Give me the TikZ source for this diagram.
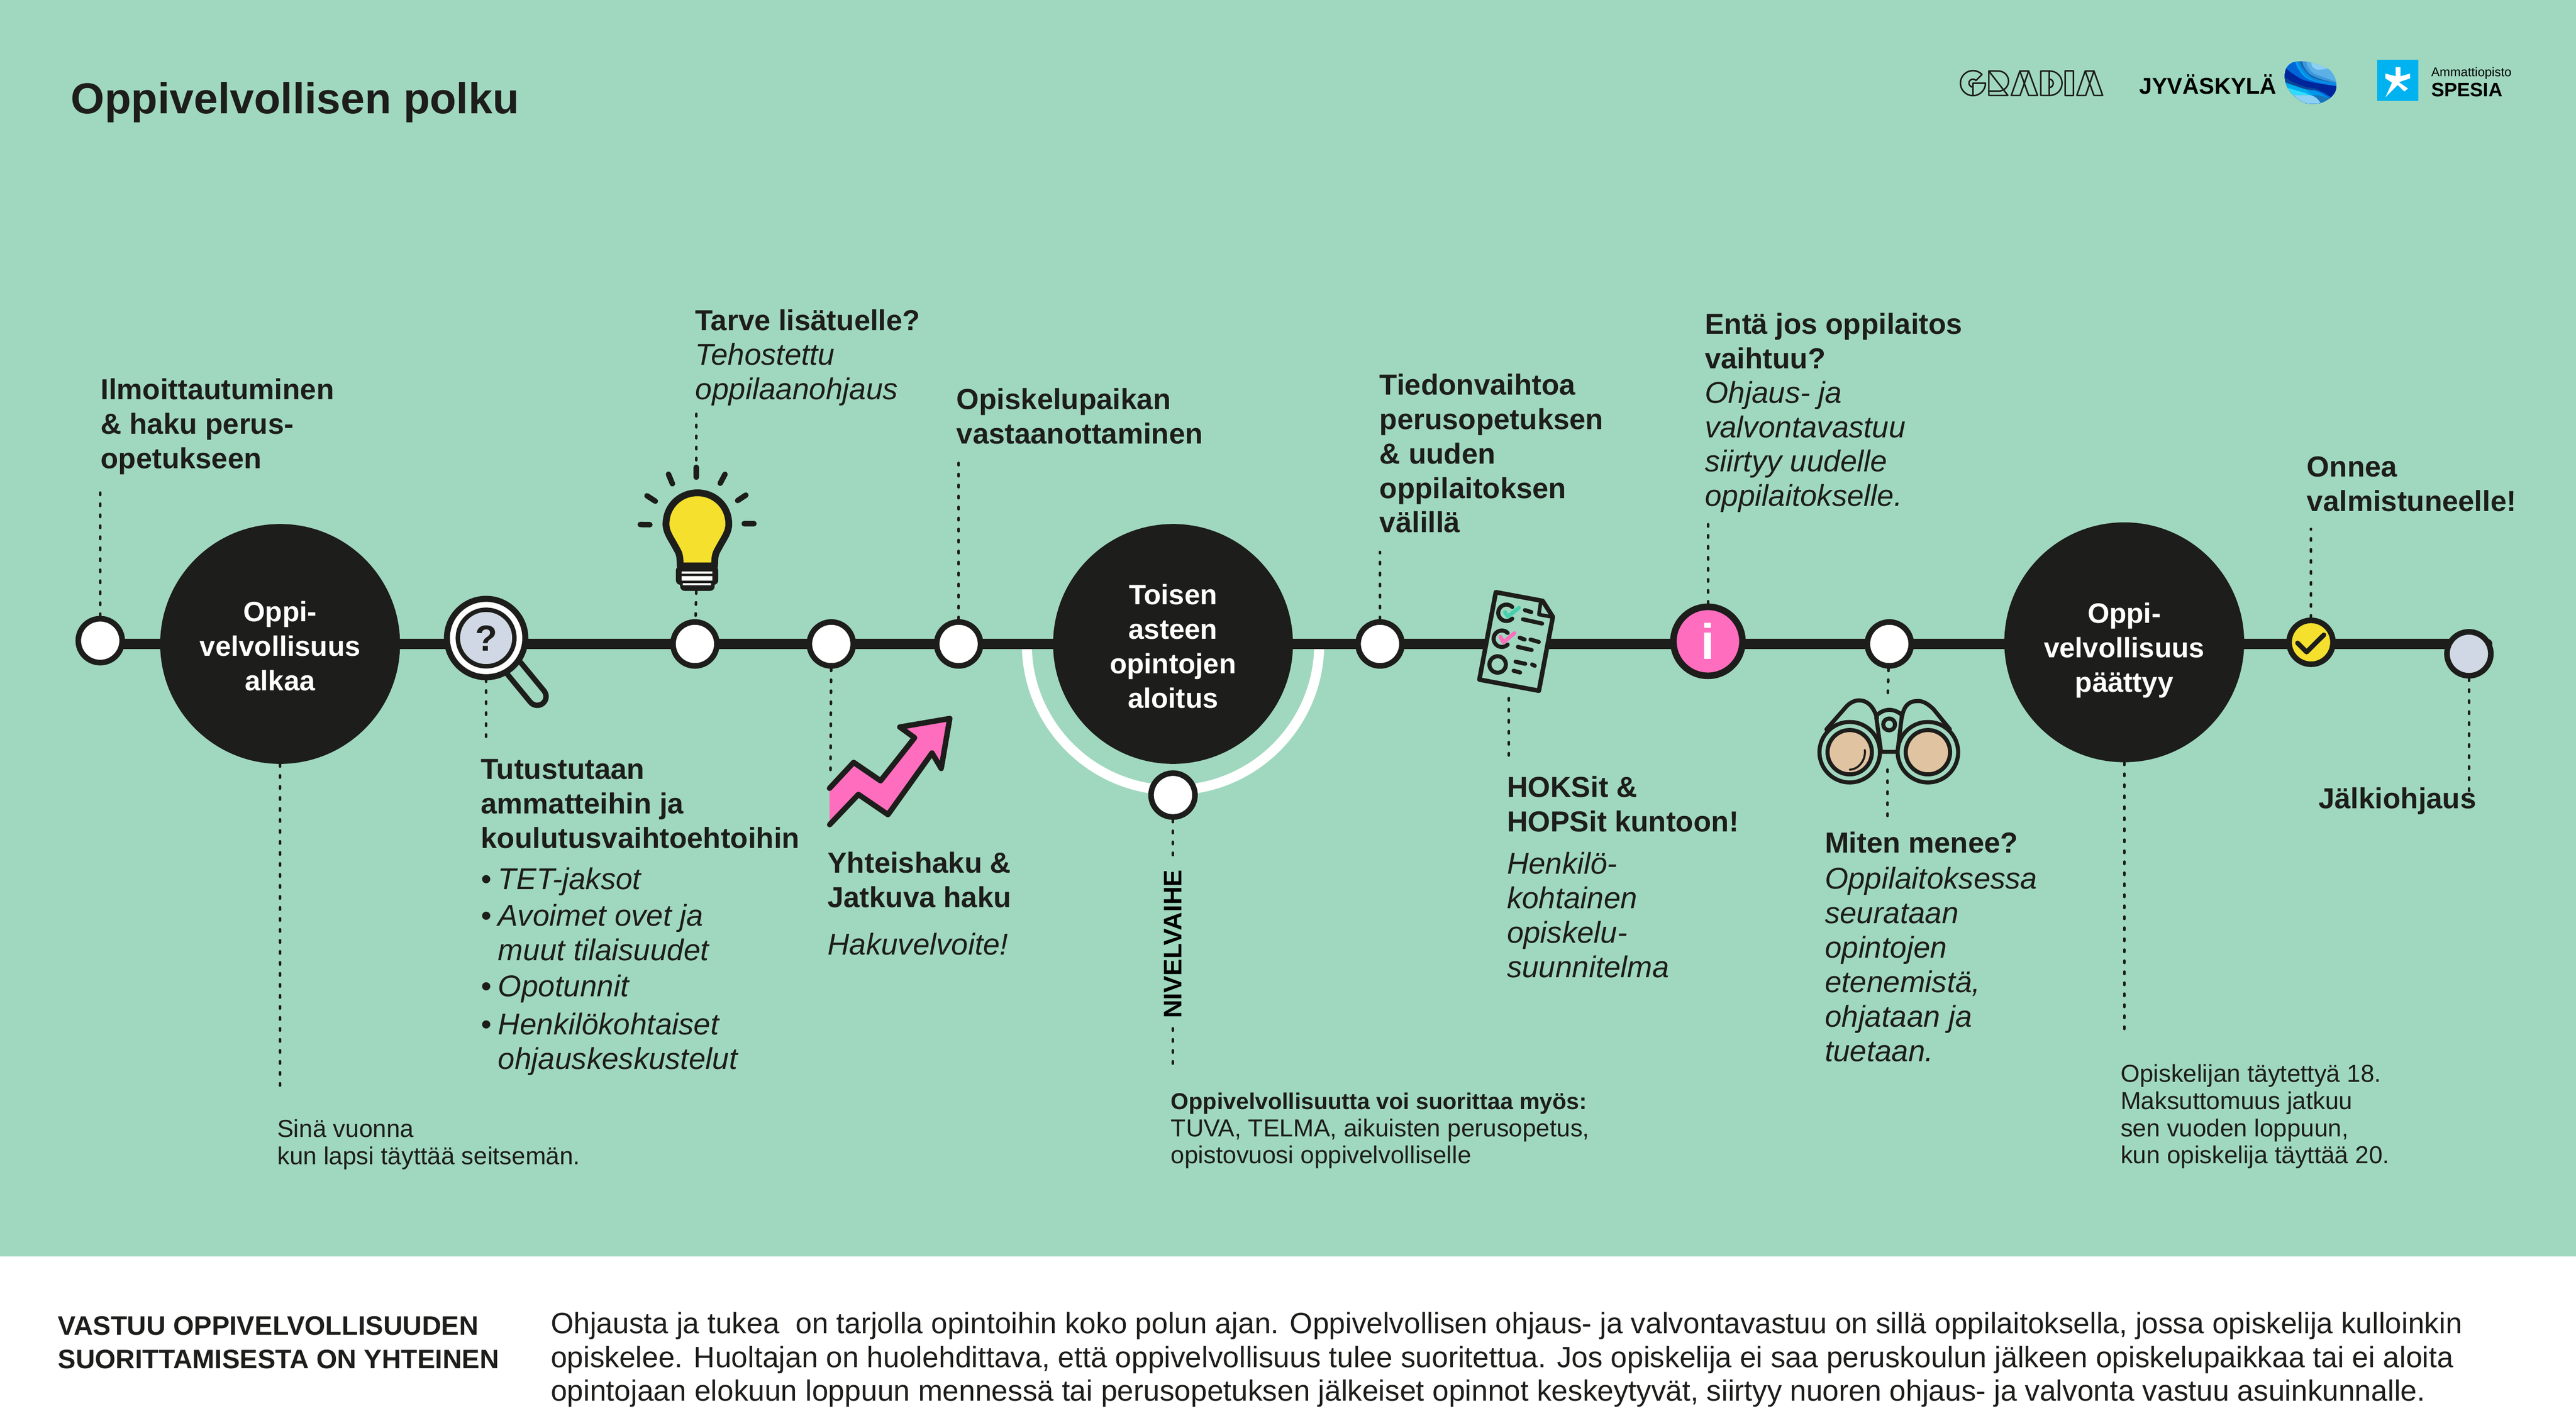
\documentclass[tikz,border=0pt]{standalone}
\usepackage{fontspec}
\setmainfont{Liberation Sans}
\usetikzlibrary{calc}
\definecolor{bgc}{HTML}{A0D8BF}
\definecolor{ink}{HTML}{1D1D1B}
\definecolor{pink}{HTML}{FF6EBE}
\definecolor{yel}{HTML}{F5E02E}
\definecolor{gry}{HTML}{CFD8E4}
\definecolor{tan}{HTML}{E0C3A0}
\definecolor{teal}{HTML}{45D0B0}
\definecolor{spes}{HTML}{00B2EF}
\definecolor{bA}{HTML}{5BB1E6}
\definecolor{bB}{HTML}{8DD0F3}
\definecolor{bC}{HTML}{3D97DC}
\definecolor{bD}{HTML}{1668AD}
\definecolor{bE}{HTML}{0A8AE6}
\definecolor{bF}{HTML}{00A6EF}
\definecolor{bG}{HTML}{0066D8}
\definecolor{bH}{HTML}{00259B}
\definecolor{bI}{HTML}{0B4596}
\definecolor{bJ}{HTML}{00AEEF}
\definecolor{bK}{HTML}{0096EA}
\definecolor{bL}{HTML}{30DDFF}
\definecolor{bM}{HTML}{1A74B8}
\pgfdeclarelayer{back}
\pgfsetlayers{back,main}
\newcommand\fl{\rule{0pt}{16pt}}
\newcommand\hr[1]{\rule{0pt}{#1}}
\newcommand\hd[1]{\rule[-#1]{0pt}{#1}}
\newcommand\itx[1]{{\fontsize{13.3pt}{15.24pt}\selectfont\itshape\mdseries #1}}
\tikzset{
  base/.style={anchor=north west,inner sep=0pt,align=left,yshift=16pt,text=ink},
  hd/.style={base,font=\fontsize{12.8pt}{15.24pt}\selectfont\bfseries},
  sm/.style={base,font=\fontsize{10.85pt}{12pt}\selectfont},
  para/.style={base,font=\fontsize{12.98pt}{14.9pt}\selectfont},
  bighub/.style={circle,fill=ink,inner sep=0pt,minimum size=106pt,text=white,align=center,font=\fontsize{12.4pt}{15.24pt}\selectfont\bfseries},
  stop/.style={circle,draw=ink,fill=white,line width=2.47pt,inner sep=0pt,minimum size=19.4pt},
  dots/.style={draw=ink,line width=1.16pt,line cap=round,dash pattern=on 1pt off 3.86pt},
  mainline/.style={draw=ink,line width=4.5pt},
  ic/.style={draw=ink,line width=2.4pt,line cap=round,line join=round},
  ict/.style={draw=ink,line width=1.8pt,line cap=round,line join=round},
  logo/.style={draw=ink,line width=0.66pt,line join=round,line cap=round},
}
\begin{document}
\begin{tikzpicture}[x=0.0255102cm,y=-0.0255102cm]
\useasboundingbox (0,0) rectangle (1568,858.94);
\begin{pgfonlayer}{back}
\fill[bgc] (0,0) rectangle (1568,765);
\fill[white] (0,765) rectangle (1568,858.94);
\end{pgfonlayer}

% title
\node[base,font=\fontsize{19.15pt}{23pt}\selectfont\bfseries] (title) at (43,69) {\fl Oppivelvollisen polku};

% GRADIA logotype: the drawn letter forms, with the word kept as real text
\node[anchor=base west,inner sep=0pt,text opacity=0,font=\fontsize{16pt}{16pt}\selectfont\bfseries] (gradia) at (1192,58) {GRADIA};
\begin{scope}[shift={(1185.8,37.24)},x=0.0016667cm,y=-0.0016667cm]
\draw[logo] (316,124) arc (-44:-360:117) -- (232,205) -- (232,322);
\draw[logo] (316,124) -- (260,181) arc (-40:-270:37);
\draw[logo] (380,92) -- (470,92) arc (-90:90:94) -- (380,280);
\draw[logo] (380,92) -- (380,320) -- (558,320) -- cycle;
\draw[logo] (590,320) -- (670,92) -- (752,92) -- (835,320) -- (752,320) -- (670,92);
\draw[logo] (590,320) -- (672,320) -- (752,92);
\draw[logo] (865,92) -- (950,92) arc (-90:90:114) -- (865,320) -- cycle;
\draw[logo] (942,92) -- (942,320);
\draw[logo] (942,167) arc (-90:90:40);
\draw[logo] (1092,92) rectangle (1170,320);
\draw[logo] (1202,320) -- (1280,92) -- (1362,92) -- (1443,320) -- (1362,320) -- (1280,92);
\draw[logo] (1202,320) -- (1285,320) -- (1362,92);
\end{scope}

\node[anchor=base west,inner sep=0pt,text=black,font=\fontsize{10.1pt}{12pt}\selectfont\bfseries] (jkl) at (1302,57.3) {JYVÄSKYLÄ};
\begin{scope}[shift={(1381.8,29.4)},x=0.0016667cm,y=-0.0016667cm]
\clip plot[smooth cycle] coordinates {(290,122) (385,133) (540,190) (600,260) (618,330) (610,400) (565,460) (480,508) (400,518) (310,505) (215,435) (165,370) (140,300) (137,240) (155,180) (205,135)};
\fill[bA] (100,100) rectangle (640,560);
\fill[bB] plot[smooth] coordinates {(385,110) (390,165) (440,200) (540,190) (600,185)} -- (600,100) -- cycle;
\fill[bC] plot[smooth] coordinates {(340,100) (345,160) (400,230) (500,270) (640,320)} -- (640,560) -- (100,560) -- (100,100) -- cycle;
\fill[bD] plot[smooth] coordinates {(300,100) (310,160) (370,240) (480,290) (640,330)} -- (640,560) -- (100,560) -- (100,100) -- cycle;
\fill[bE] plot[smooth] coordinates {(265,100) (300,180) (380,265) (470,298) (640,330)} -- (640,560) -- (100,560) -- (100,100) -- cycle;
\fill[bF] plot[smooth] coordinates {(245,100) (270,170) (345,265) (470,325) (640,360)} -- (640,560) -- (100,560) -- (100,100) -- cycle;
\fill[bG] plot[smooth] coordinates {(235,100) (250,170) (325,270) (450,320) (640,360)} -- (640,560) -- (100,560) -- (100,100) -- cycle;
\fill[bH] plot[smooth] coordinates {(130,170) (200,230) (310,295) (460,330) (640,355)} -- (640,560) -- (100,560) -- cycle;
\fill[bI] plot[smooth] coordinates {(130,265) (210,315) (330,360) (420,375)} -- (470,395) -- (470,560) -- (100,560) -- cycle;
\fill[bG] (400,385) -- (490,410) -- (640,500) -- (640,560) -- (400,560) -- cycle;
\fill[bJ] plot[smooth] coordinates {(130,315) (230,350) (340,385) (440,405) (560,475) (640,530)} -- (640,560) -- (100,560) -- cycle;
\fill[bK] plot[smooth] coordinates {(330,383) (440,403) (560,470)} -- (480,480) -- (400,440) -- cycle;
\fill[bL] (150,365) -- (250,395) -- (330,418) -- (370,437) -- (150,437) -- cycle;
\fill[bB] (150,437) -- (370,437) .. controls (430,450) and (450,480) .. (485,515) -- (450,560) -- (150,560) -- cycle;
\fill[bM] (390,440) .. controls (450,430) and (500,450) .. (560,470) -- (480,520) .. controls (450,480) and (430,450) .. (390,440) -- cycle;
\end{scope}
\fill[spes] (1447,36.3) rectangle (1472,61.6);
\fill[white] (1458.2,40.9) -- (1461.2,40.9) -- (1461.2,46.4) -- (1467,44.8) -- (1467,47.7) -- (1460.2,50) -- (1465.7,53.9) -- (1463.5,55.7) -- (1459.5,51.7) -- (1452,59.2) -- (1456,50.3) -- (1452,47.7) -- (1452,44.8) -- (1458.2,46.4) -- cycle;
\node[anchor=base west,inner sep=0pt,text=black,font=\fontsize{5.6pt}{6pt}\selectfont] (amm) at (1479.6,46.5) {Ammattiopisto};
\node[anchor=base west,inner sep=0pt,text=black,font=\fontsize{8.6pt}{9pt}\selectfont\bfseries] (sp) at (1479.6,58.8) {SPESIA};

% hubs and stops
\node[stop] (n1) at (61,390) {};
\node[bighub] (hub1) at (170.5,392) {\hr{12.5pt}Oppi-\\velvollisuus\\\hd{2pt}alkaa};
\node[stop] (n2) at (423,392) {};
\node[stop] (n3) at (506,392) {};
\node[stop] (n4) at (583.5,392) {};
\node[bighub] (hub2) at (714,392) {\hr{13.1pt}Toisen\\asteen\\opintojen\\\hd{2pt}aloitus};
\node[stop] (n5) at (714,484) {};
\node[stop] (n6) at (840,392) {};
\node[stop,fill=pink,line width=2.9pt,minimum size=30.5pt,text=white,font=\fontsize{22pt}{22pt}\selectfont\bfseries] (info) at (1039.6,390.4) {i};
\node[stop] (n7) at (1150,392) {};
\node[bighub] (hub3) at (1293,391) {\hr{16.5pt}Oppi-\\velvollisuus\\\hd{2.8pt}päättyy};
\node[stop,fill=yel] (chk) at (1406.7,391) {};
\node[stop,fill=gry] (fin) at (1502.8,398) {};
\coordinate (lineend) at (1514,392);

% magnifier
\draw[line width=10.2pt,draw=ink,line cap=round] (313,407) -- (327,424);
\draw[line width=5.4pt,draw=bgc,line cap=round] (313,407) -- (327,424);
\fill[ink] (295.9,388.4) circle [radius=25.7];
\fill[white] (295.9,388.4) circle [radius=22];
\node[circle,draw=ink,fill=gry,line width=1.95pt,inner sep=0pt,minimum size=25pt,text=ink,font=\fontsize{16pt}{16pt}\selectfont\bfseries] (mag) at (295.9,388.4) {?};

% bulb
\draw[ic,fill=yel,line width=3pt] (414,344.5) .. controls (414,338) and (413.5,337) .. (411.5,333.5) .. controls (408,327) and (405.4,324) .. (405.4,319) .. controls (405.4,308) and (414,300) .. (424.5,300) .. controls (435,300) and (443.6,308) .. (443.6,319) .. controls (443.6,324) and (441,327) .. (437.5,333.5) .. controls (435.5,337) and (435,338) .. (435,344.5) -- cycle;
\fill[ink,rounded corners=2pt] (411.4,344.5) rectangle (437.2,356);
\fill[ink,rounded corners=2pt] (414,350) rectangle (435,359.7);
\fill[white] (414.9,347.9) rectangle (433.6,349.2) (414.9,350.7) rectangle (433.6,353.5) (415.6,355) rectangle (432.8,356.3);
\coordinate (bulbtop) at (423.8,252);
\coordinate (bulbbot) at (423.8,360);
\coordinate (bulbray) at (423.8,282);
\draw[ic] (423.8,284.5) -- (423.8,290.5);
\draw[ic] (406.9,288.7) -- (409.3,294.5);
\draw[ic] (441.3,288.7) -- (438.4,294.2);
\draw[ic] (393.8,301.8) -- (398.9,305.1);
\draw[ic] (454,301.4) -- (449,304.7);
\draw[ic] (389.7,319.3) -- (395.6,319.4);
\draw[ic] (453,318.8) -- (458.9,318.8);

% arrow
\fill[pink] (504.9,479.9) -- (519.6,464.1) -- (536,475.3) -- (556.7,449.1) -- (547.7,442.6) -- (578.1,437.4) -- (572.9,467.8) -- (567.3,458.4) -- (540.5,495.9) -- (522.5,483.6) -- (505,502) -- cycle;
\draw[ic] (504.9,479.9) -- (519.6,464.1) -- (536,475.3) -- (556.7,449.1) -- (547.7,442.6) -- (578.1,437.4) -- (572.9,467.8) -- (567.3,458.4) -- (540.5,495.9) -- (522.5,483.6) -- (505,502);

% document
\draw[ict,fill=bgc,line width=2pt] (910.5,360.5) -- (939,365.8) -- (945.2,375.5) -- (936.7,420.5) -- (900.5,413.7) -- cycle;
\draw[ict,line width=1.6pt] (937.8,366.6) -- (936.7,374.1) -- (945,375.6);
\draw[ink,line width=1.8pt,line cap=round] (920.5,369.5) arc (-45:-315:5) ;
\draw[ink,line width=1.8pt,line cap=round] (917.7,385.3) arc (-45:-315:5);
\draw[ink,line width=1.8pt] (911.6,404.5) circle [radius=5];
\draw[teal,line width=1.7pt,line cap=round,line join=round] (916,372.6) -- (917.8,375.3) -- (924.6,370);
\draw[pink,line width=1.7pt,line cap=round,line join=round] (913.3,387.6) -- (915.1,391) -- (921.8,385.4);
\foreach \a/\b/\c/\d in {928.2/371.4/932.1/372.6,927/377/938.7/379.6,925/388.2/928/389.3,931.6/389.3/936.7/390.8,923.9/393.8/932.3/395.7,922.5/402.8/928.4/404.1,932.6/404.5/934.2/405.3,921.3/408.3/925.3/409.4}
  \draw[ict] (\a,\b) -- (\c,\d);

% binoculars
\draw[ict] (1111.7,444) -- (1123.5,430.5) .. controls (1127,426.5) and (1131,426) .. (1133,426.5) .. controls (1138,427) and (1141,432) .. (1142.5,437);
\draw[ict] (1186.9,444) -- (1176.9,431.7) .. controls (1172,427) and (1169,426.5) .. (1166.4,426.8) .. controls (1161,427) and (1158.5,431) .. (1157.6,437);
\draw[ict] (1142.3,435.5) .. controls (1147,431) and (1153,431) .. (1158,435.5);
\draw[ict] (1142,436.2) -- (1145,457.7) -- (1155,457.7) -- (1157.6,436.2);
\draw[ict] (1149.9,441) circle [radius=3.6];
\foreach \cx in {1125.9,1173.5}{
  \draw[ict,fill=bgc] (\cx,457.9) circle [radius=18.4];
  \draw[ict,fill=tan] (\cx,457.9) circle [radius=13.5];
}
\draw[ink,line width=0.9pt,line cap=round] (1135.1,456.5) .. controls (1135.8,463) and (1131,468.5) .. (1125.9,468.5);

\begin{pgfonlayer}{back}
\draw[white,line width=4.4pt] (625,392) arc (180:0:89);
\draw[mainline,line cap=round] (n1 |- lineend) -- (lineend);
\coordinate (a) at (61,295);
\draw[dots] (n1) -- (a);
\coordinate (a) at (170.5,665);
\draw[dots] (hub1) -- (a);
\coordinate (a) at (295.9,450);
\draw[dots] (mag) -- (a);
\draw[dots] (bulbtop) -- (bulbray);
\draw[dots] (bulbbot) -- (n2);
\coordinate (a) at (505.5,472);
\draw[dots] (n3) -- (a);
\coordinate (a) at (583.5,280);
\draw[dots] (n4) -- (a);
\coordinate (a) at (714,525);
\draw[dots] (n5) -- (a);
\coordinate (a) at (714,626);
\coordinate (b) at (714,650);
\draw[dots] (a) -- (b);
\coordinate (a) at (840,336);
\draw[dots] (n6) -- (a);
\coordinate (a) at (918.5,425);
\coordinate (b) at (918.5,465);
\draw[dots] (a) -- (b);
\coordinate (a) at (1039.6,318);
\draw[dots] (info) -- (a);
\coordinate (a) at (1149,426);
\draw[dots] (n7) -- (a);
\coordinate (a) at (1149,468.5);
\coordinate (b) at (1149,498);
\draw[dots] (a) -- (b);
\coordinate (a) at (1293,628);
\draw[dots] (hub3) -- (a);
\coordinate (a) at (1406.7,322);
\draw[dots] (chk) -- (a);
\coordinate (a) at (1502.8,492);
\draw[dots] (fin) -- (a);
\end{pgfonlayer}
\draw[ink,line width=2.1pt,line cap=round,line join=round] (1398.5,391.4) -- (1404,396.9) -- (1414.5,386.5);

% labels
\node[hd] (t1) at (61,243) {\fl Ilmoittautuminen\\\& haku perus-\\opetukseen};
\node[hd] (t2) at (423,201) {\fl Tarve lisätuelle?\\\itx{Tehostettu}\\\itx{oppilaanohjaus}};
\node[hd] (t3) at (582,249) {\fl Opiskelupaikan\\vastaanottaminen};
\node[hd] (t4) at (839.5,240) {\fl Tiedonvaihtoa\\perusopetuksen\\\& uuden\\oppilaitoksen\\välillä};
\node[hd] (t5) at (1037.5,203) {\fl Entä jos oppilaitos\\vaihtuu?\\\itx{Ohjaus- ja}\\\itx{valvontavastuu}\\\itx{siirtyy uudelle}\\\itx{oppilaitokselle.}};
\node[hd] (t6) at (1404,290) {\fl Onnea\\valmistuneelle!};
\node[hd] (t7) at (292.5,474) {\fl Tutustutaan\\ammatteihin ja\\koulutusvaihtoehtoihin\\[3.1pt]
\itx{\makebox[7.6pt][l]{•}TET-jaksot}\\[0.8pt]
\itx{\makebox[7.6pt][l]{•}Avoimet ovet ja}\\
\itx{\hspace*{7.6pt}muut tilaisuudet}\\[0.8pt]
\itx{\makebox[7.6pt][l]{•}Opotunnit}\\[1.5pt]
\itx{\makebox[7.6pt][l]{•}Henkilökohtaiset}\\
\itx{\hspace*{7.6pt}ohjauskeskustelut}};
\node[hd] (t8) at (503.5,531) {\fl Yhteishaku \&\\Jatkuva haku\\[5.8pt]\itx{Hakuvelvoite!}};
\node[anchor=center,rotate=90,inner sep=0pt,text=black,font=\fontsize{11.2pt}{12pt}\selectfont\bfseries] (nv) at (714,574.7) {NIVELVAIHE};
\node[hd] (t9) at (917,485) {\fl HOKSit \&\\HOPSit kuntoon!\\[3.4pt]\itx{Henkilö-}\\\itx{kohtainen}\\\itx{opiskelu-}\\\itx{suunnitelma}};
\node[hd] (t10) at (1110.5,519) {\fl Miten menee?\\[0.7pt]\itx{Oppilaitoksessa}\\\itx{seurataan}\\\itx{opintojen}\\\itx{etenemistä,}\\\itx{ohjataan ja}\\\itx{tuetaan.}};
\node[hd] (t11) at (1411,492) {\fl Jälkiohjaus};
\node[sm] (s1) at (168.5,692) {\fl Sinä vuonna\\kun lapsi täyttää seitsemän.};
\node[sm] (s2) at (712.5,675) {\fl {\fontsize{10.15pt}{12pt}\selectfont\bfseries Oppivelvollisuutta voi suorittaa myös:}\\TUVA, TELMA, aikuisten perusopetus,\\opistovuosi oppivelvolliselle};
\node[sm] (s3) at (1290.5,658.5) {\fl Opiskelijan täytettyä 18.\\Maksuttomuus jatkuu\\sen vuoden loppuun,\\kun opiskelija täyttää 20.};
\node[para,font=\fontsize{11.8pt}{14.7pt}\selectfont\bfseries] (b1) at (35,812.5) {\fl VASTUU OPPIVELVOLLISUUDEN\\SUORITTAMISESTA ON YHTEINEN};
\node[para] (b2) at (335,811.5) {\fl Ohjausta ja tukea\ \ on tarjolla opintoihin koko polun ajan. Oppivelvollisen ohjaus- ja valvontavastuu on sillä oppilaitoksella, jossa opiskelija kulloinkin\\opiskelee. Huoltajan on huolehdittava, että oppivelvollisuus tulee suoritettua. Jos opiskelija ei saa peruskoulun jälkeen opiskelupaikkaa tai ei aloita\\opintojaan elokuun loppuun mennessä tai perusopetuksen jälkeiset opinnot keskeytyvät, siirtyy nuoren ohjaus- ja valvonta vastuu asuinkunnalle.};
\end{tikzpicture}
\end{document}
